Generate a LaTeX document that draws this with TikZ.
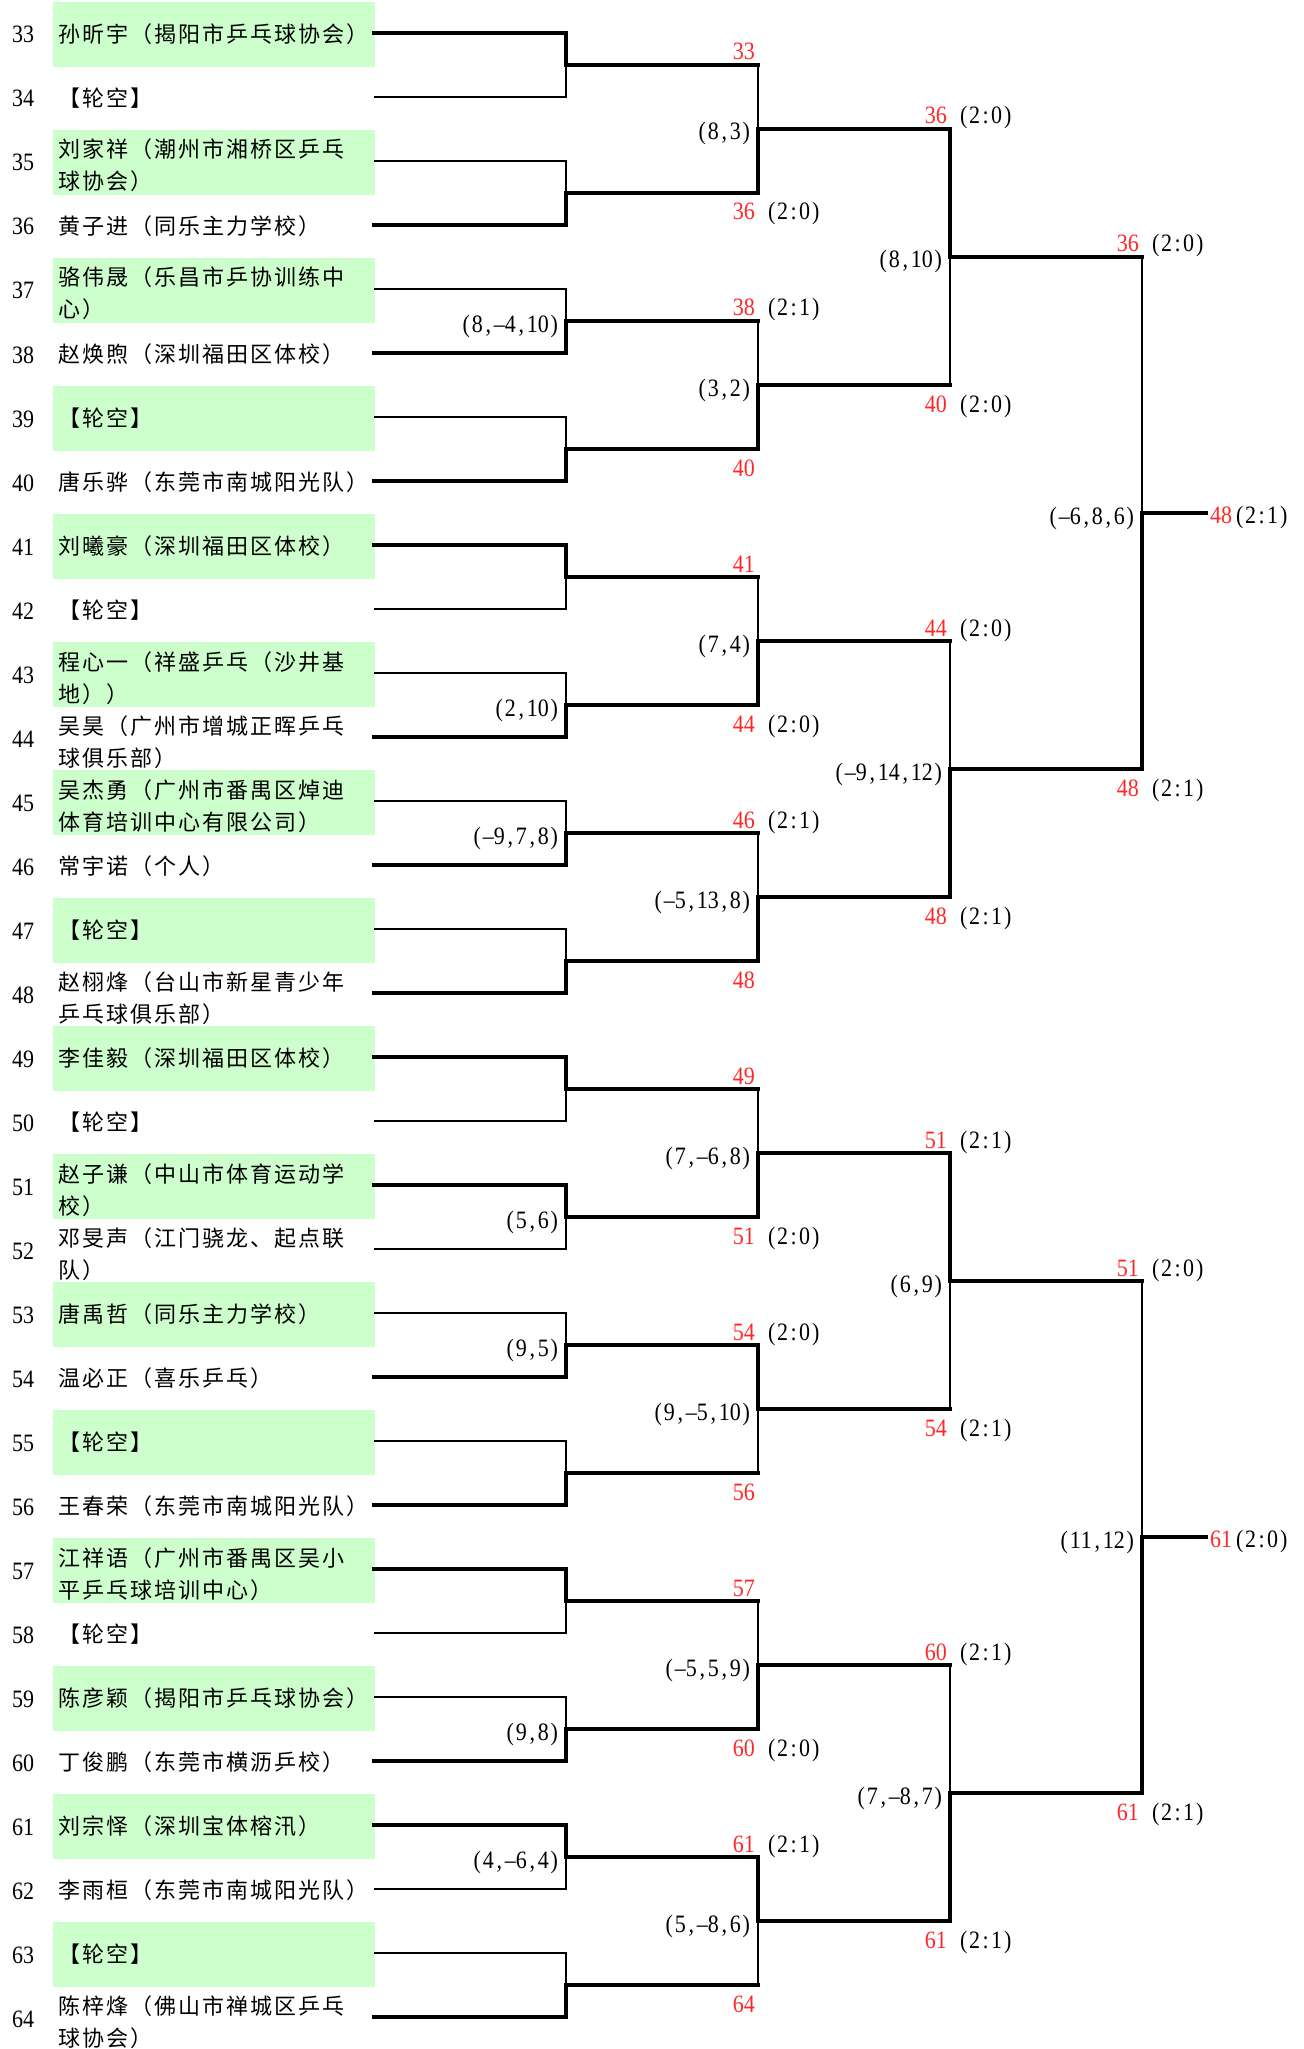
\documentclass[tikz,border=0pt]{standalone}
\usepackage{fontspec}
\setmainfont{Liberation Serif}[FakeStretch=0.88]
\newfontfamily\cjk{Noto Sans CJK SC}
\definecolor{lblred}{RGB}{255,40,40}
\definecolor{boxgreen}{RGB}{204,255,204}
\def\hwend{}
\def\hwloop#1{\ifx#1\hwend\else\makebox[11pt][c]{#1}\expandafter\hwloop\fi}
\newcommand\hw[1]{\hwloop#1\hwend}
\def\cjkloop#1{\ifx#1\hwend\else\makebox[24pt][l]{#1}\expandafter\cjkloop\fi}
\newcommand\cjkbox[1]{\cjkloop#1\hwend}
\newcommand\one[3]{\node[numlbl,anchor=base west] (r#2) at (12,{43+64*#1}) {\hw{#2}};
  \node[namelbl,anchor=base west] (n#2) at (58,{42.5+64*#1}) {\cjkbox{#3}};}
\newcommand\two[4]{\node[numlbl,anchor=base west] (r#2) at (12,{43+64*#1}) {\hw{#2}};
  \node[namelbl,anchor=base west] (n#2) at (58,{30+64*#1}) {\cjkbox{#3}};
  \node[namelbl,anchor=base west] (n#2b) at (58,{62+64*#1}) {\cjkbox{#4}};}
\newcommand\wup[2]{\node[res,anchor=base east] (#1w) at ([shift={(-3,-5)}]#1) {\hw{#2}};}
\newcommand\wdn[2]{\node[res,anchor=base east] (#1w) at ([shift={(-3,27)}]#1) {\hw{#2}};}
\newcommand\scup[2]{\node[scr,anchor=base west] (#1s) at ([shift={(8,-5)}]#1) {\hw{#2}};}
\newcommand\scdn[2]{\node[scr,anchor=base west] (#1s) at ([shift={(8,27)}]#1) {\hw{#2}};}
\newcommand\gs[2]{\node[scr,anchor=base east] (#1g) at ([shift={(-6,11)}]#1) {\hw{#2}};}
\begin{document}
\begin{tikzpicture}[x=1pt,y=-1pt,
  numlbl/.style={inner sep=0pt,font=\fontsize{25}{25}\selectfont,text=black},
  namelbl/.style={inner sep=0pt,font=\fontsize{22}{22}\selectfont\cjk,text=black},
  res/.style={inner sep=0pt,font=\fontsize{25}{25}\selectfont,text=lblred},
  scr/.style={inner sep=0pt,font=\fontsize{25}{25}\selectfont,text=black},
  win/.style={line width=4.5pt,line cap=rect,line join=miter},
  lose/.style={line width=1.2pt}]
\useasboundingbox (0,0) rectangle (1303,2049);
% green boxes
\foreach \i in {0,2,...,30} \fill[boxgreen] (53,{2+64*\i}) rectangle (375,{67+64*\i});
% coordinates
\foreach \i in {0,...,31} \coordinate (P\i) at (374,{33+64*\i});
\foreach \k in {0,...,15} {\coordinate (Oa\k) at (566,{65+128*\k}); \coordinate (Na\k) at (758,{65+128*\k});}
\foreach \k in {0,...,7} {\coordinate (Ob\k) at (758,{129+256*\k}); \coordinate (Nb\k) at (950,{129+256*\k});}
\foreach \k in {0,...,3} {\coordinate (Oc\k) at (950,{257+512*\k}); \coordinate (Nc\k) at (1142,{257+512*\k});}
\foreach \k in {0,1} {\coordinate (Od\k) at (1142,{513+1024*\k}); \coordinate (Nd\k) at (1206,{513+1024*\k});}
% players
\one{0}{33}{孙昕宇（揭阳市乒乓球协会）}
\one{1}{34}{【轮空】}
\two{2}{35}{刘家祥（潮州市湘桥区乒乓}{球协会）}
\one{3}{36}{黄子进（同乐主力学校）}
\two{4}{37}{骆伟晟（乐昌市乒协训练中}{心）}
\one{5}{38}{赵焕煦（深圳福田区体校）}
\one{6}{39}{【轮空】}
\one{7}{40}{唐乐骅（东莞市南城阳光队）}
\one{8}{41}{刘曦豪（深圳福田区体校）}
\one{9}{42}{【轮空】}
\two{10}{43}{程心一（祥盛乒乓（沙井基}{地））}
\two{11}{44}{吴昊（广州市增城正晖乒乓}{球俱乐部）}
\two{12}{45}{吴杰勇（广州市番禺区焯迪}{体育培训中心有限公司）}
\one{13}{46}{常宇诺（个人）}
\one{14}{47}{【轮空】}
\two{15}{48}{赵栩烽（台山市新星青少年}{乒乓球俱乐部）}
\one{16}{49}{李佳毅（深圳福田区体校）}
\one{17}{50}{【轮空】}
\two{18}{51}{赵子谦（中山市体育运动学}{校）}
\two{19}{52}{邓旻声（江门骁龙、起点联}{队）}
\one{20}{53}{唐禹哲（同乐主力学校）}
\one{21}{54}{温必正（喜乐乒乓）}
\one{22}{55}{【轮空】}
\one{23}{56}{王春荣（东莞市南城阳光队）}
\two{24}{57}{江祥语（广州市番禺区吴小}{平乒乓球培训中心）}
\one{25}{58}{【轮空】}
\one{26}{59}{陈彦颖（揭阳市乒乓球协会）}
\one{27}{60}{丁俊鹏（东莞市横沥乒校）}
\one{28}{61}{刘宗怿（深圳宝体榕汛）}
\one{29}{62}{李雨桓（东莞市南城阳光队）}
\one{30}{63}{【轮空】}
\two{31}{64}{陈梓烽（佛山市禅城区乒乓}{球协会）}
% round 1
\foreach \k/\w/\l in {0/0/1,1/3/2,2/5/4,3/7/6,4/8/9,5/11/10,6/13/12,7/15/14,8/16/17,9/18/19,10/21/20,11/23/22,12/24/25,13/27/26,14/28/29,15/31/30} {
  \draw[lose] (P\l) -- (P\l -| Oa\k) -- (Oa\k);
  \draw[win] (P\w) -- (P\w -| Oa\k) -- (Oa\k) -- (Na\k);
}
% round 2
\foreach \k/\w/\l in {0/1/0,1/3/2,2/5/4,3/7/6,4/9/8,5/10/11,6/13/12,7/14/15} {
  \draw[lose] (Na\l) -- (Ob\k);
  \draw[win] (Na\w) -- (Ob\k) -- (Nb\k);
}
% round 3
\foreach \k/\w/\l in {0/0/1,1/3/2,2/4/5,3/7/6} {
  \draw[lose] (Nb\l) -- (Oc\k);
  \draw[win] (Nb\w) -- (Oc\k) -- (Nc\k);
}
% round 4
\foreach \k/\w/\l in {0/1/0,1/3/2} {
  \draw[lose] (Nc\l) -- (Od\k);
  \draw[win] (Nc\w) -- (Od\k) -- (Nd\k);
}
% round 1 labels
\wup{Na0}{33}
\wdn{Na1}{36}\scdn{Na1}{(2:0)}
\wup{Na2}{38}\scup{Na2}{(2:1)}
\wdn{Na3}{40}
\wup{Na4}{41}
\wdn{Na5}{44}\scdn{Na5}{(2:0)}
\wup{Na6}{46}\scup{Na6}{(2:1)}
\wdn{Na7}{48}
\wup{Na8}{49}
\wdn{Na9}{51}\scdn{Na9}{(2:0)}
\wup{Na10}{54}\scup{Na10}{(2:0)}
\wdn{Na11}{56}
\wup{Na12}{57}
\wdn{Na13}{60}\scdn{Na13}{(2:0)}
\wup{Na14}{61}\scup{Na14}{(2:1)}
\wdn{Na15}{64}
\gs{Oa2}{(8,–4,10)}
\gs{Oa5}{(2,10)}
\gs{Oa6}{(–9,7,8)}
\gs{Oa9}{(5,6)}
\gs{Oa10}{(9,5)}
\gs{Oa13}{(9,8)}
\gs{Oa14}{(4,–6,4)}
% round 2 labels
\wup{Nb0}{36}\scup{Nb0}{(2:0)}
\wdn{Nb1}{40}\scdn{Nb1}{(2:0)}
\wup{Nb2}{44}\scup{Nb2}{(2:0)}
\wdn{Nb3}{48}\scdn{Nb3}{(2:1)}
\wup{Nb4}{51}\scup{Nb4}{(2:1)}
\wdn{Nb5}{54}\scdn{Nb5}{(2:1)}
\wup{Nb6}{60}\scup{Nb6}{(2:1)}
\wdn{Nb7}{61}\scdn{Nb7}{(2:1)}
\gs{Ob0}{(8,3)}
\gs{Ob1}{(3,2)}
\gs{Ob2}{(7,4)}
\gs{Ob3}{(–5,13,8)}
\gs{Ob4}{(7,–6,8)}
\gs{Ob5}{(9,–5,10)}
\gs{Ob6}{(–5,5,9)}
\gs{Ob7}{(5,–8,6)}
% round 3 labels
\wup{Nc0}{36}\scup{Nc0}{(2:0)}
\wdn{Nc1}{48}\scdn{Nc1}{(2:1)}
\wup{Nc2}{51}\scup{Nc2}{(2:0)}
\wdn{Nc3}{61}\scdn{Nc3}{(2:1)}
\gs{Oc0}{(8,10)}
\gs{Oc1}{(–9,14,12)}
\gs{Oc2}{(6,9)}
\gs{Oc3}{(7,–8,7)}
% round 4 labels
\gs{Od0}{(–6,8,6)}
\gs{Od1}{(11,12)}
\node[res,anchor=base west] (Nd0w) at ([shift={(4,10)}]Nd0) {\hw{48}};
\node[scr,anchor=base west] (Nd0s) at ([shift={(28,10)}]Nd0) {\hw{(2:1)}};
\node[res,anchor=base west] (Nd1w) at ([shift={(4,10)}]Nd1) {\hw{61}};
\node[scr,anchor=base west] (Nd1s) at ([shift={(28,10)}]Nd1) {\hw{(2:0)}};
\end{tikzpicture}
\end{document}
